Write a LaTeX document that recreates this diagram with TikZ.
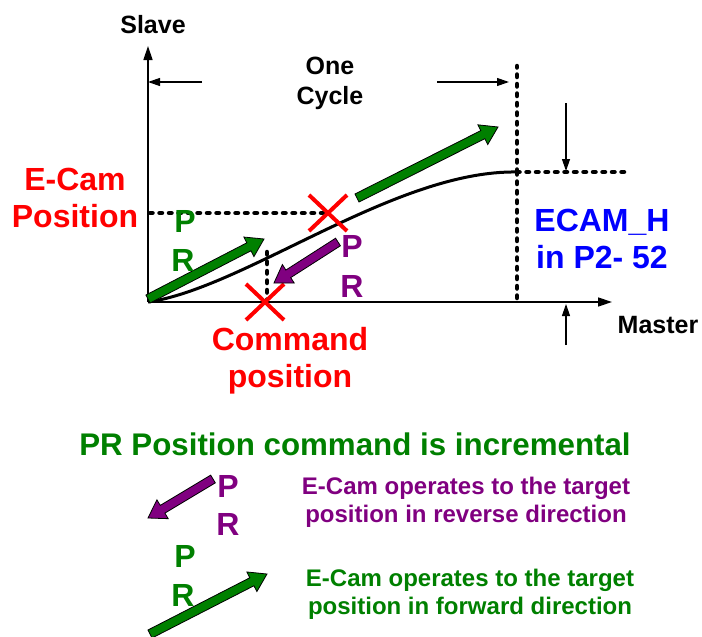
\documentclass[tikz,border=0pt]{standalone}
\usepackage{fontspec}
\setmainfont{Liberation Sans}
\usetikzlibrary{calc,arrows.meta}
\definecolor{cgreen}{RGB}{0,128,0}
\definecolor{cpurple}{RGB}{128,0,128}
\definecolor{cred}{RGB}{255,0,0}
\definecolor{cblue}{RGB}{0,0,255}
\newcommand\blockarr[3]{%
  \coordinate (hb) at ($(#2)!17pt!(#1)$);
  \filldraw[fill=#3,draw=black,line width=0.8pt,line join=miter]
    ($(#1)!4.5pt!90:(#2)$) -- ($(hb)!4.5pt!90:(#2)$) -- ($(hb)!11pt!90:(#2)$) -- (#2)
    -- ($(hb)!11pt!-90:(#2)$) -- ($(hb)!4.5pt!-90:(#2)$) -- ($(#1)!4.5pt!-90:(#2)$) -- cycle;}
\newcommand\redcross[1]{%
  \draw[crossline] ($(#1)+(-19,-18)$) -- ($(#1)+(19,18)$);
  \draw[crossline] ($(#1)+(-19,18)$) -- ($(#1)+(19,-18)$);}
\tikzset{
  t25/.style={font=\fontsize{25}{30}\selectfont\bfseries,inner sep=0pt,align=center},
  t33/.style={font=\fontsize{32}{37}\selectfont\bfseries,inner sep=0pt,align=center},
  t24/.style={font=\fontsize{24}{28}\selectfont\bfseries,inner sep=0pt,align=center},
  axis/.style={line width=1.4pt,-{Triangle[length=14pt,width=9pt]}},
  thinarr/.style={line width=1.2pt,-{Triangle[length=12pt,width=8pt]}},
  dots/.style={line width=4.5pt,line cap=round,dash pattern=on 2.5pt off 7pt},
  crossline/.style={cred,line width=4pt},
  curve/.style={line width=3pt},
}
\begin{document}
\begin{tikzpicture}[x=1pt,y=-1pt]
\useasboundingbox (0,0) rectangle (702,637);
% coordinates
\coordinate (O) at (148,302);
\coordinate (ytip) at (148,46);
\coordinate (xtip) at (612,302);
\coordinate (E) at (517,172);
\coordinate (Etop) at (517,66);
\coordinate (Eright) at (630,172);
\coordinate (Xu) at (328,213);
\coordinate (Xl) at (265,302);
\coordinate (Dl) at (150,213);
\coordinate (Vt) at (267,252);
\coordinate (Vb) at (267,300);
% axes
\draw[axis] (O) -- (ytip);
\draw[axis] (O) -- (xtip);
% dotted lines
\draw[dots] (E) -- (Etop);
\draw[dots] (E) -- (O -| E);
\draw[dots] (E) -- (Eright);
\draw[dots] (Dl) -- (Xu);
\draw[dots] (Vt) -- (Vb);
% cam curve
\draw[curve] (O) .. controls (245,288) and (395,170) .. (E);
% one cycle arrows
\coordinate (c1) at (202,82); \coordinate (c1t) at (148,82);
\coordinate (c2) at (437,82); \coordinate (c2t) at (509,82);
\draw[thinarr] (c1) -- (c1t);
\draw[thinarr] (c2) -- (c2t);
% ECAM_H arrows
\coordinate (d1) at (566,103); \coordinate (d1t) at (566,171);
\coordinate (u1) at (566,345); \coordinate (u1t) at (566,304);
\draw[thinarr] (d1) -- (d1t);
\draw[thinarr] (u1) -- (u1t);
% crosses
\redcross{Xu}
\redcross{Xl}
% block arrows
\coordinate (g1s) at (148,299); \coordinate (g1e) at (264,239);
\coordinate (g2s) at (357,198); \coordinate (g2e) at (498,127);
\coordinate (p1s) at (338,242); \coordinate (p1e) at (274,283);
\blockarr{g1s}{g1e}{cgreen}
\blockarr{g2s}{g2e}{cgreen}
\blockarr{p1s}{p1e}{cpurple}
% labels
\node[t25] (slave) at (153,25) {Slave};
\node[t25] (master) at (658,325) {Master};
\node[t25] (cycle) at (330,83) {One\\Cycle};
\node[t33,cred] (ecampos) at (75,198) {E-Cam\\Position};
\node[t33,cblue] (ecamh) at (602,239) {ECAM\_H\\in P2- 52};
\node[t33,cred] (cmdpos) at (290,361) {Command\\position};
\node[t33,cgreen] (gP) at (185,221) {P};
\node[t33,cgreen] (gR) at (183,260) {R};
\node[t33,cpurple] (pP) at (352,246) {P};
\node[t33,cpurple] (pR) at (352,286) {R};
% title
\node[font=\fontsize{31.3}{36}\selectfont\bfseries,inner sep=0pt,text=cgreen] (title) at (355,444) {PR Position command is incremental};
% legend
\coordinate (lps) at (213,479); \coordinate (lpe) at (148,518);
\blockarr{lps}{lpe}{cpurple}
\node[t33,cpurple] (lpP) at (228,486) {P};
\node[t33,cpurple] (lpR) at (228,524) {R};
\node[t24,cpurple] (lptext) at (466,502) {E-Cam operates to the target\\position in reverse direction};
\node[t33,cgreen] (lgP) at (185,556) {P};
\node[t33,cgreen] (lgR) at (183,595) {R};
\coordinate (lgs) at (150,634); \coordinate (lge) at (267,574);
\blockarr{lgs}{lge}{cgreen}
\node[t24,cgreen] (lgtext) at (470,594) {E-Cam operates to the target\\position in forward direction};
\end{tikzpicture}
\end{document}
